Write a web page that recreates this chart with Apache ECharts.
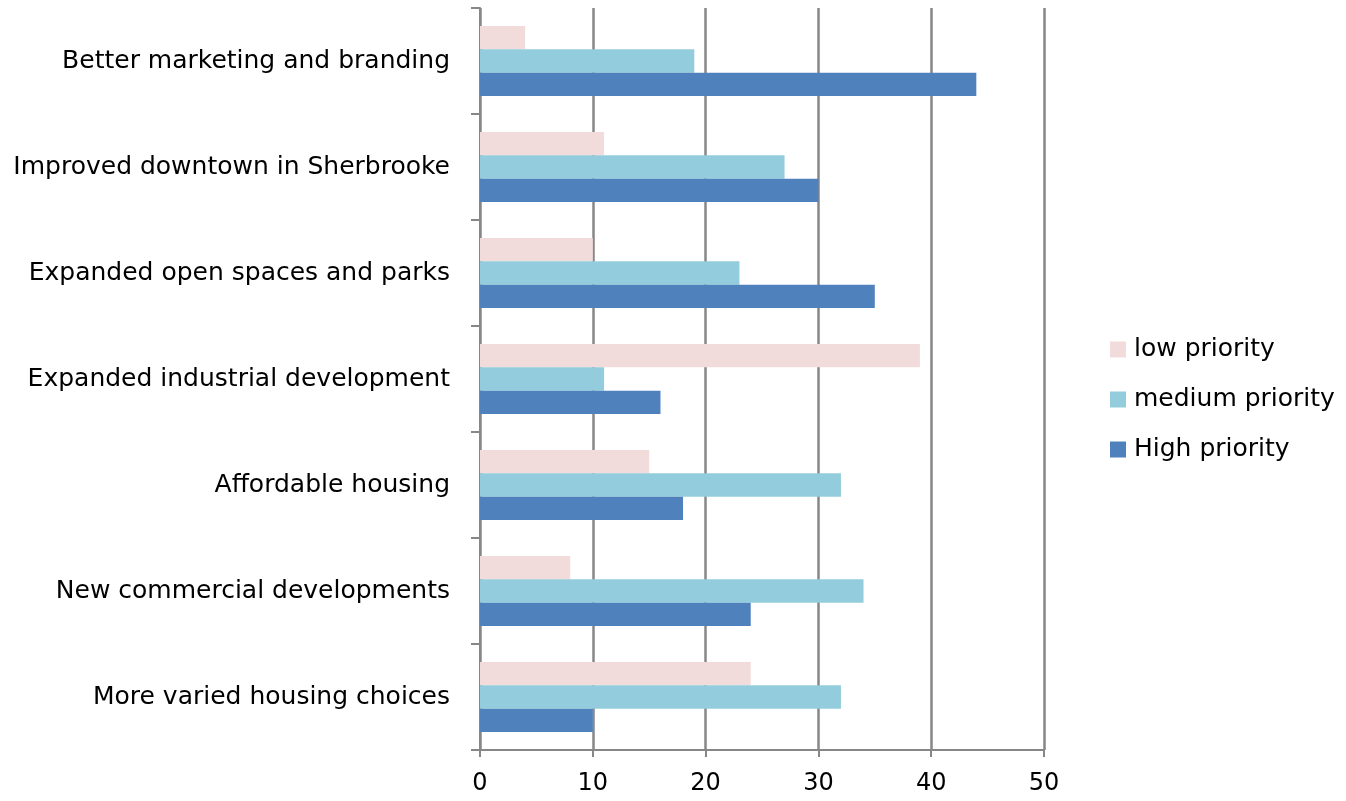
<!DOCTYPE html>
<html>
<head>
<meta charset="utf-8">
<script src="https://cdn.jsdelivr.net/npm/echarts@6/dist/echarts.min.js"></script>
<style>
  html, body { margin: 0; padding: 0; background: #ffffff; }
  #chart { width: 1346px; height: 801px; }
</style>
</head>
<body>
<div id="chart"></div>
<script>
// Priority survey: share of responses per improvement, by priority level
const categories = [
  'Better marketing and branding',
  'Improved downtown in Sherbrooke',
  'Expanded open spaces and parks',
  'Expanded industrial development',
  'Affordable housing',
  'New commercial developments',
  'More varied housing choices'
];
const lowPriority    = [4, 11, 10, 39, 15, 8, 24];
const mediumPriority = [19, 27, 23, 11, 32, 34, 32];
const highPriority   = [44, 30, 35, 16, 18, 24, 10];
const seriesNames = ['low priority', 'medium priority', 'High priority'];
const axisTicks = [0, 10, 20, 30, 40, 50];

const FONT = '"DejaVu Sans", "Open Sans", sans-serif';
const GRID_COLOR = '#878787';

const chart = echarts.init(document.getElementById('chart'), null, { renderer: 'canvas' });

const barSeries = (name, data, color) => ({
  name,
  type: 'bar',
  data,
  barGap: '0%',
  barCategoryGap: '34%',
  itemStyle: { color },
  emphasis: { disabled: true }
});

chart.setOption({
  animation: false,
  backgroundColor: '#ffffff',
  grid: { left: 480, right: 302, top: 8, bottom: 51, containLabel: false },
  legend: {
    orient: 'vertical',
    left: 1105,
    top: 332,
    itemWidth: 16,
    itemHeight: 16,
    itemGap: 25,
    icon: 'rect',
    textStyle: { fontFamily: FONT, fontSize: 25, color: '#000000', padding: [0, 0, 0, 3] },
    data: seriesNames
  },
  xAxis: {
    type: 'value',
    min: axisTicks[0],
    max: axisTicks[axisTicks.length - 1],
    interval: 10,
    axisLine: { show: true, lineStyle: { color: GRID_COLOR, width: 2 } },
    axisTick: { show: true, length: 7, lineStyle: { color: GRID_COLOR, width: 2 } },
    splitLine: { show: true, lineStyle: { color: GRID_COLOR, width: 2.5 } },
    axisLabel: { fontFamily: FONT, fontSize: 24, color: '#000000', margin: 22 }
  },
  yAxis: {
    type: 'category',
    data: categories,
    inverse: true,
    axisLine: { show: true, lineStyle: { color: GRID_COLOR, width: 2 } },
    axisTick: { show: true, length: 9, lineStyle: { color: GRID_COLOR, width: 2 } },
    axisLabel: { fontFamily: FONT, fontSize: 25, color: '#000000', margin: 30 }
  },
  series: [
    barSeries(seriesNames[0], lowPriority, '#F2DCDB'),
    barSeries(seriesNames[1], mediumPriority, '#93CDDD'),
    barSeries(seriesNames[2], highPriority, '#4F81BD')
  ]
});
</script>
</body>
</html>
